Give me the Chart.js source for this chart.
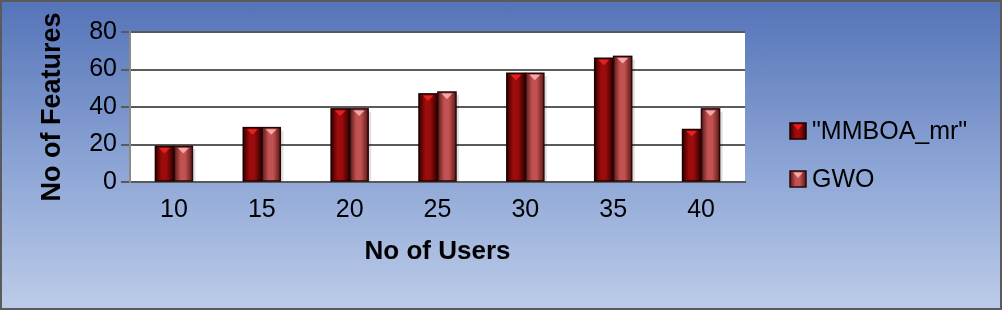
<!DOCTYPE html>
<html>
<head>
<meta charset="utf-8">
<script src="https://cdn.jsdelivr.net/npm/chart.js@4"></script>
<style>
  html, body { margin: 0; padding: 0; }
  #wrap {
    width: 1002px; height: 310px; box-sizing: border-box;
    border: 2px solid #5a5a5a;
    background: linear-gradient(to bottom, #5574b8 0%, #8ea6d6 55%, #bccbe8 100%);
  }
  canvas { display: block; }
</style>
</head>
<body>
<div id="wrap"><canvas id="chart" width="998" height="306"></canvas></div>
<script>
// DATA
const users = ['10', '15', '20', '25', '30', '35', '40'];
const seriesNames = ['"MMBOA_mr"', 'GWO'];
const mmboaValues = [19, 29, 39, 47, 58, 66, 28];
const gwoValues = [19, 29, 39, 48, 58, 67, 39];
const yTicks = [0, 20, 40, 60, 80];

const FONT = '"Liberation Sans", Arial, Helvetica, sans-serif';

// bar colours
const barStyles = [
  { edge: '#380000', mid: '#9c0c0c', cap: '#e42020', line: '#1e0000' },
  { edge: '#5c1818', mid: '#c25252', cap: '#f4a8a8', line: '#2a0808' }
];

// white plot area
const plotBackground = {
  id: 'plotBackground',
  beforeDraw(chart) {
    const {ctx, chartArea: a} = chart;
    ctx.save();
    ctx.fillStyle = '#ffffff';
    ctx.fillRect(a.left, a.top, a.right - a.left, a.bottom - a.top);
    ctx.restore();
  }
};

function shadedRect(ctx, x0, top, w, h, st) {
  const g = ctx.createLinearGradient(x0, 0, x0 + w, 0);
  g.addColorStop(0, st.edge);
  g.addColorStop(0.35, st.mid);
  g.addColorStop(0.6, st.mid);
  g.addColorStop(1, st.edge);
  ctx.fillStyle = g;
  ctx.fillRect(x0, top, w, h);
  ctx.fillStyle = st.cap;
  ctx.beginPath();
  ctx.moveTo(x0 + w * 0.2, top + 1.5);
  ctx.lineTo(x0 + w * 0.8, top + 1.5);
  ctx.lineTo(x0 + w / 2, top + Math.min(7, h * 0.45));
  ctx.closePath();
  ctx.fill();
  ctx.strokeStyle = st.line;
  ctx.lineWidth = 1.5;
  ctx.strokeRect(x0, top, w, h);
}

// shaded "3d" look on top of each bar
const barShade = {
  id: 'barShade',
  afterDatasetsDraw(chart) {
    const ctx = chart.ctx;
    chart.data.datasets.forEach((ds, i) => {
      chart.getDatasetMeta(i).data.forEach(bar => {
        const w = bar.width, x0 = bar.x - w / 2;
        ctx.save();
        ctx.fillStyle = 'rgba(0,0,0,0.12)';
        ctx.fillRect(x0 + w, bar.y + 3, 3, bar.base - bar.y - 3);
        shadedRect(ctx, x0, bar.y, w, bar.base - bar.y, barStyles[i]);
        ctx.restore();
      });
    });
  }
};

// legend at the right, centred on the whole picture
const sideLegend = {
  id: 'sideLegend',
  afterDraw(chart) {
    const ctx = chart.ctx;
    const x = chart.chartArea.right + 45;
    const rowGap = 48;
    const y0 = chart.height / 2 - rowGap / 2;
    ctx.save();
    ctx.font = '25px ' + FONT;
    ctx.textBaseline = 'middle';
    seriesNames.forEach((name, i) => {
      const cy = y0 + i * rowGap;
      shadedRect(ctx, x, cy - 8, 16, 16, barStyles[i]);
      ctx.fillStyle = '#000';
      ctx.fillText(name, x + 22, cy + 1);
    });
    ctx.restore();
  }
};

new Chart(document.getElementById('chart'), {
  type: 'bar',
  data: {
    labels: users,
    datasets: [
      { label: seriesNames[0], data: mmboaValues, backgroundColor: '#8a0a0a' },
      { label: seriesNames[1], data: gwoValues, backgroundColor: '#b04545' }
    ]
  },
  options: {
    responsive: false,
    animation: false,
    layout: { padding: { top: 30, left: 0, bottom: 32, right: 255 } },
    datasets: { bar: { categoryPercentage: 0.43, barPercentage: 0.96, borderWidth: 0 } },
    scales: {
      x: {
        grid: { display: false },
        border: { display: true, color: '#5a5a5a', width: 2 },
        ticks: { color: '#000', font: { family: FONT, size: 25 }, padding: 5 },
        title: { display: true, text: 'No of Users', color: '#000', font: { family: FONT, size: 26, weight: 'bold' }, padding: { top: 4, bottom: 9 } },
        afterFit(scale) { scale.height = 94; }
      },
      y: {
        min: 0, max: 80,
        afterBuildTicks(scale) { scale.ticks = yTicks.map(v => ({ value: v })); },
        grid: { color: '#5a5a5a', lineWidth: 2, tickLength: 9 },
        border: { display: true, color: '#8a8a8a', width: 2 },
        ticks: { color: '#000', font: { family: FONT, size: 25 }, padding: 4 },
        title: { display: true, text: 'No of Features', color: '#000', font: { family: FONT, size: 27, weight: 'bold' }, padding: { top: 34, bottom: 4 } },
        afterFit(scale) { scale.width = 128; }
      }
    },
    plugins: {
      legend: { display: false },
      tooltip: { enabled: false }
    }
  },
  plugins: [plotBackground, barShade, sideLegend]
});
</script>
</body>
</html>
